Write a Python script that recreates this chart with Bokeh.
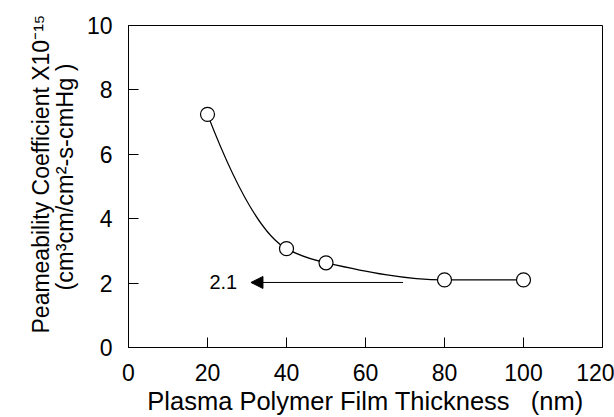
import numpy as np
from bokeh.plotting import figure
from bokeh.models import Label, Arrow, NormalHead, Range1d, FixedTicker, Title
from bokeh.embed import file_html
from bokeh.resources import INLINE

# ---- data ----
thickness = [20, 40, 50, 80, 100]          # nm
permeability = [7.24, 3.07, 2.63, 2.10, 2.10]  # x1e-15
x_ticks = [0, 20, 40, 60, 80, 100, 120]
y_ticks = [0, 2, 4, 6, 8, 10]
arrow_from = 69.5
arrow_to = 31.0
arrow_level = 2.02
arrow_text = "2.1"
x_title = "Plasma Polymer Film Thickness\u00a0\u00a0\u00a0(nm)"
y_title_1 = "Peameability Coefficient X10\u207b\u00b9\u2075"
y_title_2 = "(cm\u00b3cm/cm\u00b2-s-cmHg )"

FONT = "Liberation Sans"

p = figure(width=614, height=417, output_backend="svg", toolbar_location=None,
           x_range=Range1d(0, 120), y_range=Range1d(0, 10),
           min_border_left=128, min_border_right=12, min_border_top=25, min_border_bottom=70)
p.background_fill_color = "white"
p.border_fill_color = "white"
p.outline_line_color = "black"
p.outline_line_width = 1
p.xgrid.visible = False
p.ygrid.visible = False

for ax, ticks in ((p.xaxis[0], x_ticks), (p.yaxis[0], y_ticks)):
    ax.ticker = FixedTicker(ticks=ticks)
    ax.major_tick_in = 10
    ax.major_tick_out = 0
    ax.minor_tick_line_color = None
    ax.major_tick_line_color = "black"
    ax.major_tick_line_width = 1
    ax.axis_line_color = "black"
    ax.axis_line_width = 1
    ax.major_label_text_font = FONT
    ax.major_label_text_font_size = "23px"
    ax.major_label_text_color = "black"

p.xaxis.major_label_standoff = 16
p.yaxis.major_label_standoff = 16
p.xaxis.axis_label = x_title
p.xaxis.axis_label_text_font = FONT
p.xaxis.axis_label_text_font_size = "25.5px"
p.xaxis.axis_label_text_font_style = "normal"
p.xaxis.axis_label_text_color = "black"
p.xaxis.axis_label_standoff = 3

# ---- y-axis title: two lines, as side titles (inner line first) ----
p.add_layout(Title(text=y_title_2, align="left", offset=57, standoff=12,
                   text_font=FONT, text_font_size="23.5px", text_font_style="normal",
                   text_color="black"), "left")
p.add_layout(Title(text=y_title_1, align="left", offset=14, standoff=-20,
                   text_font=FONT, text_font_size="23px", text_font_style="normal",
                   text_color="black"), "left")

# ---- smooth monotone curve through the points (PCHIP -> cubic Bezier) ----
x = np.array(thickness, float)
y = np.array(permeability, float)
n = len(x)
h = np.diff(x)
d = np.diff(y) / h
m = np.zeros(n)
for k in range(1, n - 1):
    if d[k - 1] * d[k] <= 0:
        m[k] = 0.0
    else:
        w1 = 2 * h[k] + h[k - 1]
        w2 = h[k] + 2 * h[k - 1]
        m[k] = (w1 + w2) / (w1 / d[k - 1] + w2 / d[k])


def end_slope(h0, h1, d0, d1):
    mm = ((2 * h0 + h1) * d0 - h0 * d1) / (h0 + h1)
    if np.sign(mm) != np.sign(d0):
        return 0.0
    if np.sign(d0) != np.sign(d1) and abs(mm) > abs(3 * d0):
        return 3 * d0
    return mm


m[0] = end_slope(h[0], h[1], d[0], d[1])
m[-1] = end_slope(h[-1], h[-2], d[-1], d[-2])

p.bezier(x0=x[:-1], y0=y[:-1], x1=x[1:], y1=y[1:],
         cx0=x[:-1] + h / 3, cy0=y[:-1] + m[:-1] * h / 3,
         cx1=x[1:] - h / 3, cy1=y[1:] - m[1:] * h / 3,
         line_color="black", line_width=1.3)

p.scatter(thickness, permeability, marker="circle", size=14,
          fill_color="white", line_color="black", line_width=1.2)

# ---- arrow annotation ----
p.add_layout(Arrow(x_start=arrow_from, y_start=arrow_level, x_end=arrow_to, y_end=arrow_level,
                   line_color="black", line_width=1,
                   end=NormalHead(size=12, fill_color="black", line_color="black", line_width=1)))
p.add_layout(Label(x=24, y=arrow_level, text=arrow_text, text_align="center",
                   text_baseline="middle", text_font=FONT, text_font_size="20px",
                   text_color="black"))

open("out.html", "w").write(file_html(p, INLINE))
